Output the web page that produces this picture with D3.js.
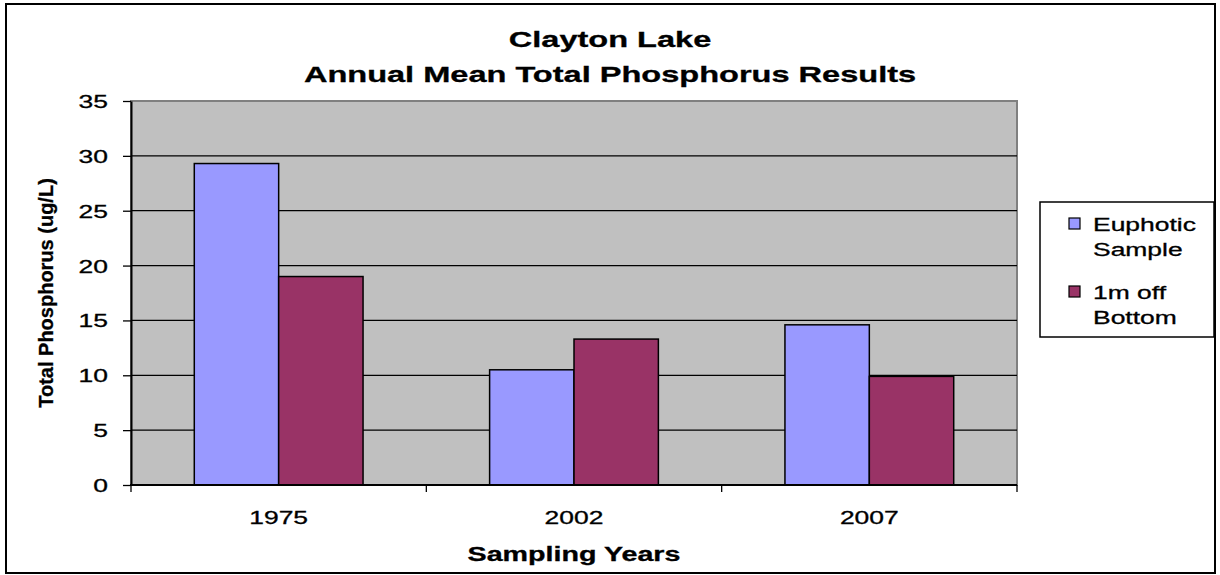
<!DOCTYPE html>
<html>
<head>
<meta charset="utf-8">
<script src="https://cdn.jsdelivr.net/npm/d3@7"></script>
<style>
  body { margin: 0; background: #fff; }
  text { font-family: Arial, "Liberation Sans", sans-serif; fill: #000; }
</style>
</head>
<body>
<div id="chart"></div>
<script>
// data
const years = ["1975", "2002", "2007"];
const seriesNames = ["Euphotic Sample", "1m off Bottom"];
const euphotic = [29.3, 10.5, 14.6];
const offBottom = [19.0, 13.3, 9.9];
const yTicks = [0, 5, 10, 15, 20, 25, 30, 35];
const colors = ["#9999ff", "#993366"];

// layout
var width = 1220, height = 575;
var plot = {left: 131, right: 1017, top: 101, bottom: 485};
var sx = 1.47; // the source text is drawn wide

var svg = d3.select("#chart").append("svg")
  .attr("width", width)
  .attr("height", height);

// outer frame
svg.append("rect")
  .attr("x", 6).attr("y", 4)
  .attr("width", 1209).attr("height", 569)
  .attr("fill", "#fff")
  .attr("stroke", "#000")
  .attr("stroke-width", 2);

// helper for wide text
function wideText(str, x, y, size, weight, anchor, scale) {
  return svg.append("text")
    .attr("transform", "translate(" + x + "," + y + ") scale(" + (scale || sx) + ",1)")
    .attr("text-anchor", anchor || "middle")
    .style("font-size", size + "px")
    .style("font-weight", weight || "normal")
    .style("stroke", "#000")
    .style("stroke-width", 0.3)
    .text(str);
}

// scales
var x0 = d3.scaleBand()
  .domain(years)
  .range([plot.left, plot.right])
  .padding(0);

var x1 = d3.scaleBand()
  .domain(seriesNames)
  .range([0, x0.bandwidth()])
  .paddingInner(0)
  .paddingOuter(0.75);

var y = d3.scaleLinear()
  .domain([0, 35])
  .range([plot.bottom, plot.top]);

// plot background
svg.append("rect")
  .attr("x", plot.left).attr("y", plot.top)
  .attr("width", plot.right - plot.left)
  .attr("height", plot.bottom - plot.top)
  .attr("fill", "#c0c0c0")
  .attr("stroke", "#808080")
  .attr("stroke-width", 2);

// gridlines
svg.selectAll(".grid")
  .data(yTicks.slice(1, -1))
  .enter().append("line")
  .attr("class", "grid")
  .attr("x1", plot.left).attr("x2", plot.right)
  .attr("y1", function(d) { return y(d); })
  .attr("y2", function(d) { return y(d); })
  .attr("stroke", "#000")
  .attr("stroke-width", 1.3);

// bars
var data = years.map(function(yr, i) {
  return {year: yr, values: [euphotic[i], offBottom[i]]};
});

var groups = svg.selectAll(".group")
  .data(data)
  .enter().append("g")
  .attr("class", "group")
  .attr("transform", function(d) { return "translate(" + x0(d.year) + ",0)"; });

groups.selectAll("rect")
  .data(function(d) { return d.values.map(function(v, j) { return {name: seriesNames[j], v: v, j: j}; }); })
  .enter().append("rect")
  .attr("x", function(d) { return x1(d.name); })
  .attr("width", x1.bandwidth())
  .attr("y", function(d) { return y(d.v); })
  .attr("height", function(d) { return y(0) - y(d.v); })
  .attr("fill", function(d) { return colors[d.j]; })
  .attr("stroke", "#000")
  .attr("stroke-width", 1.5);

// y axis
var yAxis = svg.append("g")
  .attr("transform", "translate(" + plot.left + ",0)")
  .call(d3.axisLeft(y).tickValues(yTicks).tickSize(8).tickSizeOuter(0));
yAxis.select(".domain").attr("stroke", "#000").attr("stroke-width", 2);
yAxis.selectAll(".tick line").attr("stroke", "#000").attr("stroke-width", 1.3);
yAxis.selectAll(".tick text")
  .attr("x", 0).attr("dy", "0.36em")
  .attr("transform", "translate(-23,0) scale(" + sx + ",1)")
  .style("font-size", "18px")
  .style("stroke", "#000")
  .style("stroke-width", 0.3)
  .style("font-family", "Arial, 'Liberation Sans', sans-serif");

// x axis
svg.append("line")
  .attr("x1", plot.left - 1).attr("x2", plot.right)
  .attr("y1", plot.bottom).attr("y2", plot.bottom)
  .attr("stroke", "#000").attr("stroke-width", 2);

var bounds = years.map(function(yr) { return x0(yr); }).concat([x0(years[years.length - 1]) + x0.bandwidth()]);
svg.selectAll(".xtick")
  .data(bounds)
  .enter().append("line")
  .attr("class", "xtick")
  .attr("x1", function(d) { return d; }).attr("x2", function(d) { return d; })
  .attr("y1", plot.bottom).attr("y2", plot.bottom + 7)
  .attr("stroke", "#000").attr("stroke-width", 1.3);

years.forEach(function(yr) {
  wideText(yr, x0(yr) + x0.bandwidth() / 2, 524, 18);
});

// titles
wideText("Clayton Lake", 610, 47, 22, "bold", "middle", 1.48);
wideText("Annual Mean Total Phosphorus Results", 610, 82, 22, "bold", "middle", 1.48);
wideText("Sampling Years", (plot.left + plot.right) / 2, 561, 19.5, "bold");

svg.append("text")
  .attr("transform", "translate(53," + ((plot.top + plot.bottom) / 2) + ") rotate(-90)")
  .attr("text-anchor", "middle")
  .style("font-size", "20px")
  .style("font-weight", "bold")
  .style("stroke", "#000")
  .style("stroke-width", 0.3)
  .text("Total Phosphorus (ug/L)");

// legend
var legend = svg.append("g");
legend.append("rect")
  .attr("x", 1040).attr("y", 202)
  .attr("width", 174).attr("height", 135)
  .attr("fill", "#fff")
  .attr("stroke", "#000")
  .attr("stroke-width", 1.5);

var legendLines = [["Euphotic", "Sample"], ["1m off", "Bottom"]];
legendLines.forEach(function(lines, i) {
  var top = 218 + i * 68;
  legend.append("rect")
    .attr("x", 1069).attr("y", top)
    .attr("width", 11).attr("height", 11)
    .attr("fill", colors[i])
    .attr("stroke", "#000")
    .attr("stroke-width", 1.2);
  lines.forEach(function(s, k) {
    wideText(s, 1093, top + 12.5 + k * 25.5, 18, "normal", "start");
  });
});
</script>
</body>
</html>
